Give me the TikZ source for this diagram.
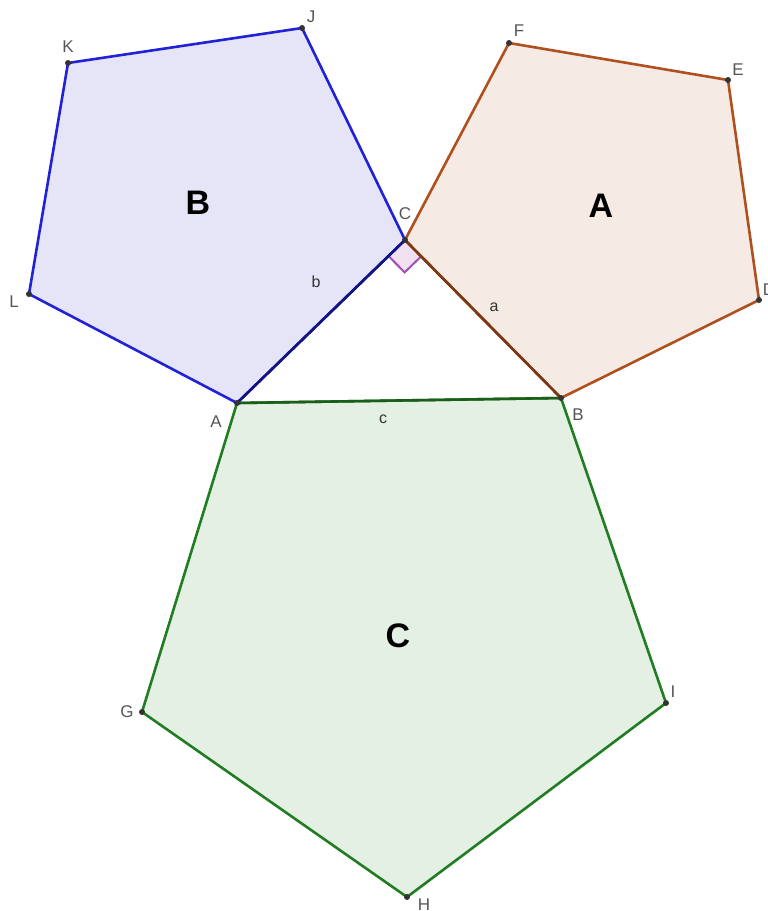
\documentclass[tikz,border=0pt]{standalone}
\usepackage{fontspec}
\setmainfont{Liberation Sans}
\usetikzlibrary{calc}
\definecolor{bluel}{HTML}{2121D6}
\definecolor{bluef}{HTML}{E5E5F7}
\definecolor{brownl}{HTML}{B0501E}
\definecolor{brownf}{HTML}{F5EAE4}
\definecolor{greenl}{HTML}{217D21}
\definecolor{greenf}{HTML}{E5F0E5}
\definecolor{labg}{HTML}{555555}
\definecolor{angc}{HTML}{A050B0}
\definecolor{angf}{HTML}{F0E0F0}
\begin{document}
\begin{tikzpicture}[x=1pt,y=-1pt,
  pt/.style={circle,fill=black!80,inner sep=0pt,minimum size=6pt},
  plab/.style={text=labg,font=\fontsize{17}{17}\selectfont,inner sep=0pt},
  slab/.style={text=black!80,font=\fontsize{16}{16}\selectfont,inner sep=0pt},
  big/.style={font=\fontsize{34}{34}\selectfont\bfseries,inner sep=0pt},
  edge/.style={line width=2.6pt,line join=round}]
\useasboundingbox (0,0) rectangle (768,911);
\coordinate (A) at (237,403);
\coordinate (B) at (561,398);
\coordinate (C) at (405,240);
\coordinate (F) at (509,43);
\coordinate (E) at (728,80);
\coordinate (D) at (759,300);
\coordinate (J) at (302,28);
\coordinate (K) at (68,63);
\coordinate (L) at (29,294);
\coordinate (G) at (142,712);
\coordinate (H) at (407,897);
\coordinate (I) at (666,703);
% fills
\fill[bluef] (A) -- (C) -- (J) -- (K) -- (L) -- cycle;
\fill[brownf] (C) -- (B) -- (D) -- (E) -- (F) -- cycle;
\fill[greenf] (A) -- (B) -- (I) -- (H) -- (G) -- cycle;
% right angle
\coordinate (R1) at ($(C)!23pt!(B)$);
\coordinate (R2) at ($(C)!23pt!(A)$);
\coordinate (R3) at ($(R1)+(R2)-(C)$);
\fill[angf] (C) -- (R1) -- (R3) -- (R2) -- cycle;
\draw[angc,line width=2pt] (R1) -- (R3) -- (R2);
% outlines
\draw[edge,bluel] (A) -- (C) -- (J) -- (K) -- (L) -- cycle;
\draw[edge,brownl] (C) -- (B) -- (D) -- (E) -- (F) -- cycle;
\draw[edge,greenl] (A) -- (B) -- (I) -- (H) -- (G) -- cycle;
\draw[edge,bluel!60!black] (A) -- (C);
\draw[edge,brownl!70!black] (C) -- (B);
\draw[edge,greenl!75!black] (A) -- (B);
% points
\foreach \p in {A,B,C,D,E,F,G,H,I,J,K,L} \node[pt] (p\p) at (\p) {};
% point labels
\node[plab] (lC) at (405,214) {C};
\node[plab] (lA) at (216,422) {A};
\node[plab] (lB) at (578,415) {B};
\node[plab] (lF) at (519,31) {F};
\node[plab] (lE) at (738,70) {E};
\node[plab] (lD) at (769,290) {D};
\node[plab] (lJ) at (311,17) {J};
\node[plab] (lK) at (68,47) {K};
\node[plab] (lL) at (14,302) {L};
\node[plab] (lG) at (127,712) {G};
\node[plab] (lH) at (424,905) {H};
\node[plab] (lI) at (673,692) {I};
% side labels
\node[slab] (sa) at (494,307) {a};
\node[slab] (sb) at (316,282) {b};
\node[slab] (sc) at (383,419) {c};
% big labels
\node[big] (bB) at (198,203) {B};
\node[big] (bA) at (601,206) {A};
\node[big] (bC) at (398,636) {C};
\end{tikzpicture}
\end{document}
